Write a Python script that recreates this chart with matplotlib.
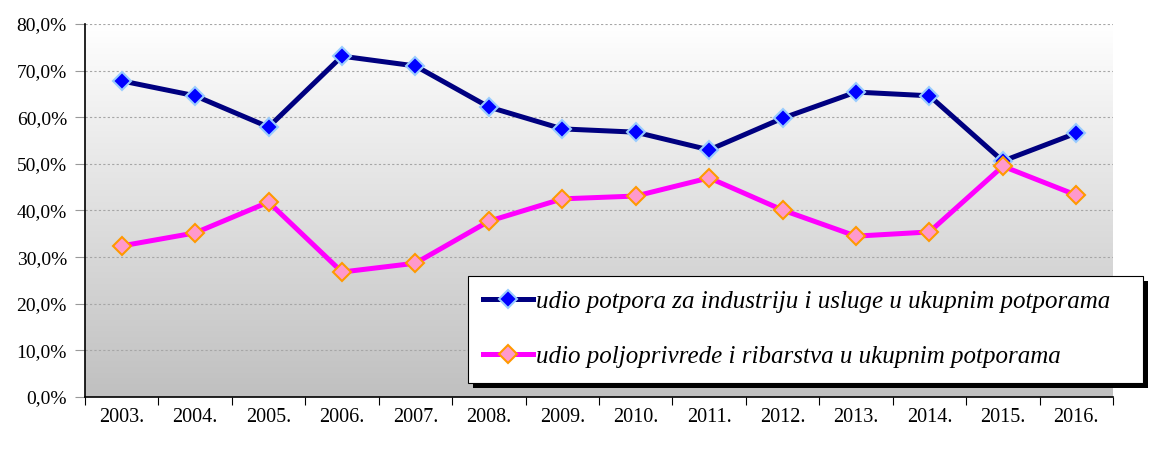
import matplotlib.pyplot as plt
import numpy as np
from matplotlib.patches import Rectangle
from matplotlib.colors import LinearSegmentedColormap

years = ["2003.", "2004.", "2005.", "2006.", "2007.", "2008.", "2009.",
         "2010.", "2011.", "2012.", "2013.", "2014.", "2015.", "2016."]

industrija = [67.8, 64.6, 57.9, 73.1, 71.0, 62.2, 57.5,
              56.8, 53.0, 59.8, 65.4, 64.6, 50.6, 56.6]

poljoprivreda = [32.4, 35.2, 41.8, 26.8, 28.7, 37.7, 42.5,
                 43.1, 47.0, 40.1, 34.5, 35.4, 49.5, 43.3]

yticks = [0, 10, 20, 30, 40, 50, 60, 70, 80]

plt.rcParams["font.family"] = "Liberation Serif"

fig = plt.figure(figsize=(11.58, 4.53), dpi=100)
ax = fig.add_axes([85 / 1158, 1 - 397 / 453, (1113 - 85) / 1158, (397 - 24) / 453])

x = np.arange(len(years))

# gradient background, white on top to grey at the bottom
grad = np.linspace(0, 1, 256).reshape(-1, 1)
bg = LinearSegmentedColormap.from_list("bg", ["#ffffff", "#c0c0c0"])
ax.imshow(grad, cmap=bg, aspect="auto", origin="upper",
          extent=[-0.5, len(years) - 0.5, 0, 80], zorder=0)

for v in yticks[1:]:
    ax.axhline(v, color="#a6a6a6", linestyle=(0, (2, 2)), linewidth=0.8, zorder=1)

ax.plot(x, industrija, color="#000080", linewidth=3.6, marker="D",
        markersize=9, markerfacecolor="#0000ff", markeredgecolor="#99ccff",
        markeredgewidth=1.5, zorder=3,
        label="udio potpora za industriju i usluge u ukupnim potporama")
ax.plot(x, poljoprivreda, color="#ff00ff", linewidth=3.6, marker="D",
        markersize=9, markerfacecolor="#ff99cc", markeredgecolor="#ff9900",
        markeredgewidth=1.5, zorder=3,
        label="udio poljoprivrede i ribarstva u ukupnim potporama")

ax.set_xlim(-0.5, len(years) - 0.5)
ax.set_ylim(0, 80)

ax.set_yticks(yticks)
ax.set_yticklabels([f"{v:.1f}%".replace(".", ",") for v in yticks], fontsize=14)

ax.set_xticks(np.arange(-0.5, len(years), 1))
ax.set_xticklabels([])
ax.set_xticks(x, minor=True)
ax.set_xticklabels(years, minor=True, fontsize=14.5)
ax.tick_params(axis="x", which="minor", length=0, pad=8)
ax.tick_params(axis="x", which="major", length=6, direction="out", color="#000000")
ax.tick_params(axis="y", length=7, direction="out", color="#999999", pad=6)

ax.spines["top"].set_visible(False)
ax.spines["right"].set_visible(False)
ax.spines["left"].set_linewidth(1.2)
ax.spines["bottom"].set_linewidth(1.2)

handles, labels = ax.get_legend_handles_labels()
leg = fig.legend(handles, labels, loc="lower left",
                 bbox_to_anchor=(468 / 1158, 1 - 383 / 453,
                                 (1143 - 468) / 1158, (383 - 275) / 453),
                 mode="expand", borderaxespad=0, fancybox=False, framealpha=1,
                 edgecolor="#000000", handlelength=2.0, handletextpad=0.1,
                 labelspacing=1.3, borderpad=0.6,
                 prop={"style": "italic", "size": 18})
leg.get_frame().set_linewidth(0.8)
leg.set_zorder(5)

fig.canvas.draw()
bb = leg.get_window_extent().transformed(fig.transFigure.inverted())
fig.patches.append(Rectangle((bb.x0 + 5 / 1158, bb.y0 - 5 / 453), bb.width, bb.height,
                             transform=fig.transFigure, facecolor="#000000",
                             edgecolor="none", zorder=4))

plt.savefig("out.png", dpi=100)
plt.close()
